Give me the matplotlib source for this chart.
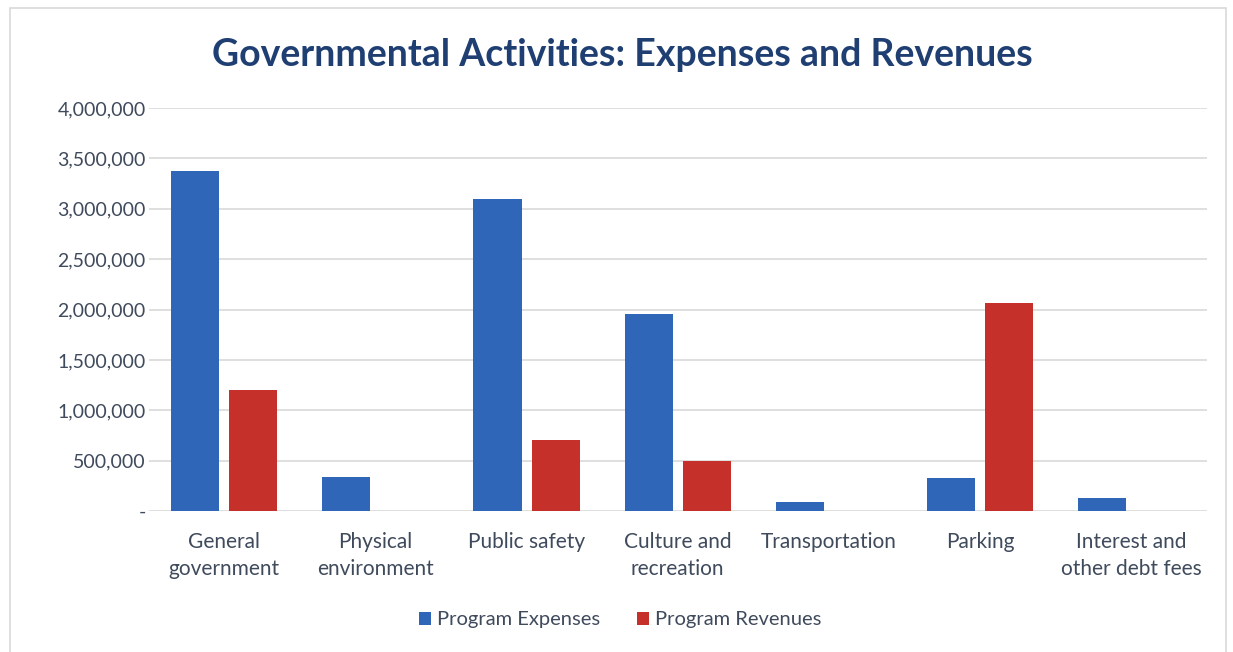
import numpy as np
import matplotlib.pyplot as plt
from matplotlib.patches import Rectangle
from matplotlib.ticker import FuncFormatter

categories = ["General\ngovernment", "Physical\nenvironment", "Public safety",
              "Culture and\nrecreation", "Transportation", "Parking",
              "Interest and\nother debt fees"]
expenses = [3370000, 340000, 3100000, 1955000, 85000, 330000, 130000]
revenues = [1200000, 0, 700000, 500000, 0, 2065000, 0]

blue = "#2F66B8"
red = "#C6302B"
text_col = "#3F4A5C"

plt.rcParams['font.family'] = ['Lato', 'DejaVu Sans']

fig = plt.figure(figsize=(12.33, 6.52), dpi=100)
fig.patches.append(Rectangle((0.008, -0.01), 0.986, 0.998, transform=fig.transFigure,
                             fill=False, edgecolor="#D9D9D9", lw=1.2))

ax = fig.add_axes([148.5 / 1233, 1 - 511 / 652, (1207 - 148.5) / 1233, 403 / 652])
x = np.arange(len(categories))
w = 0.318
off = 0.192
ax.bar(x - off, expenses, w, color=blue, lw=0, label="Program Expenses", zorder=3)
ax.bar(x + off, revenues, w, color=red, lw=0, label="Program Revenues", zorder=3)

ax.set_xlim(-0.5, len(categories) - 0.5)
ax.set_ylim(0, 4000000)
ax.set_yticks(np.arange(0, 4000001, 500000))
ax.yaxis.set_major_formatter(FuncFormatter(lambda v, p: "-" if v == 0 else f"{int(v):,}"))
ax.set_xticks(x)
ax.set_xticklabels(categories, linespacing=1.45)
ax.tick_params(axis='x', length=0, labelsize=15, labelcolor=text_col, pad=15)
ax.tick_params(axis='y', length=0, labelsize=14, labelcolor=text_col, pad=2)
ax.grid(axis='y', color="#D9D9D9", lw=1.2, zorder=0)
for s in ax.spines.values():
    s.set_visible(False)

fig.text(0.505, 1 - 55 / 652, "Governmental Activities: Expenses and Revenues",
         ha='center', va='center', fontsize=27, fontweight='bold', color="#1F3F73")

fig.legend(loc='center', bbox_to_anchor=(0.503, 1 - 620 / 652), ncol=2, frameon=False,
           fontsize=14.5, handlelength=0.6, handleheight=0.6, columnspacing=1.8,
           handletextpad=0.3, labelcolor=text_col)

fig.savefig("out.png", dpi=100)
